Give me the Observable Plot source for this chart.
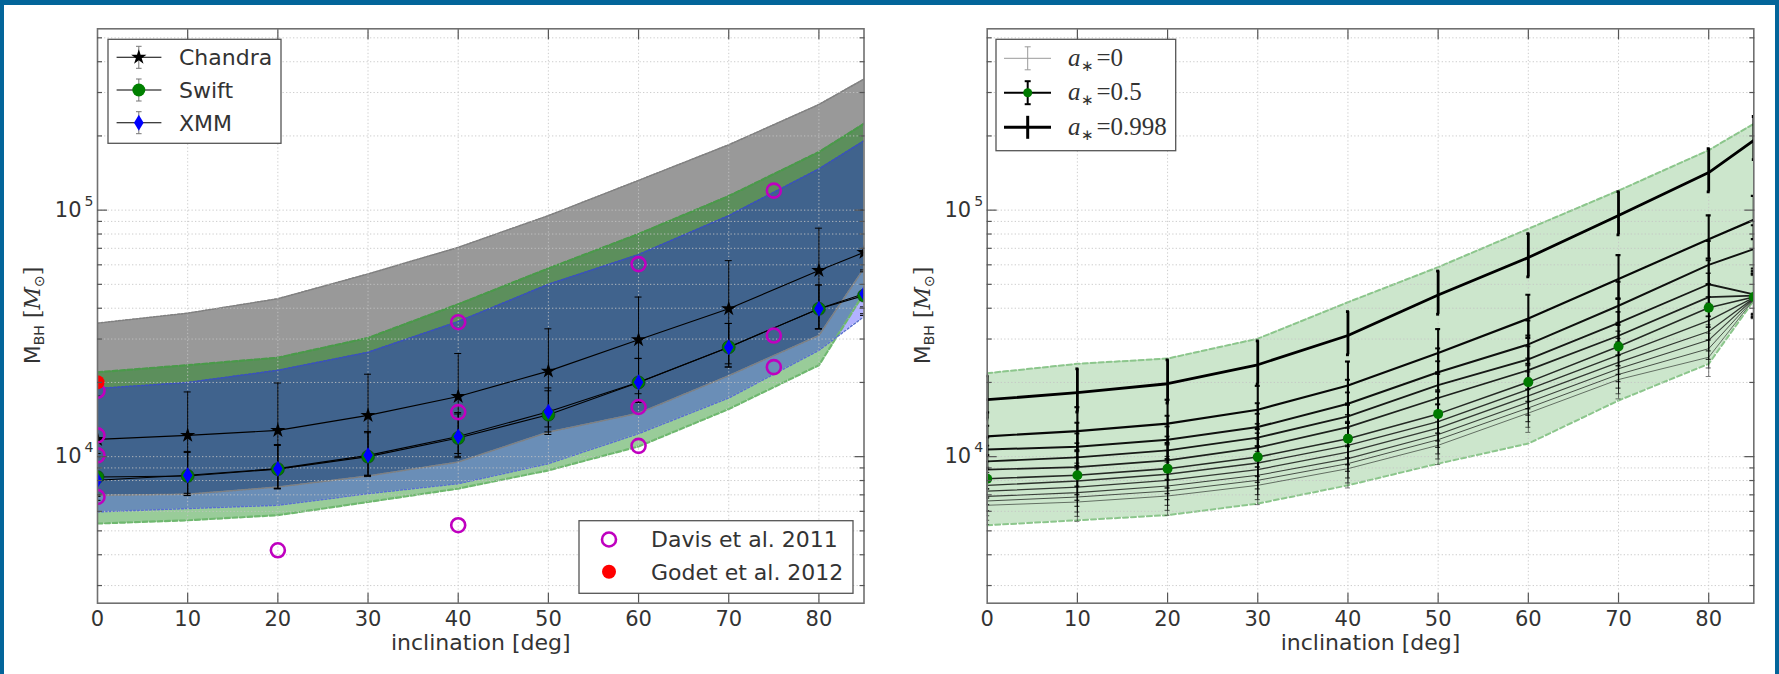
<!DOCTYPE html>
<html><head><meta charset="utf-8">
<script src="https://cdn.jsdelivr.net/npm/d3@7"></script>
<script src="https://cdn.jsdelivr.net/npm/@observablehq/plot@0.6"></script>
<style>
html,body{margin:0;padding:0;background:#fff;}
#page{position:relative;width:1779px;height:674px;overflow:hidden;background:#fff;}
.bd{position:absolute;background:#03659a;}
.panel{position:absolute;top:0;}
</style></head><body>
<div id="page">
<div id="p1" class="panel" style="left:0px"></div>
<div id="p2" class="panel" style="left:890px"></div>
<div class="bd" style="left:0;top:0;width:4px;height:674px"></div>
<div class="bd" style="left:0;top:0;width:1779px;height:5px"></div>
<div class="bd" style="left:1775px;top:0;width:4px;height:674px"></div>
</div>
<script>
// ---------------- data ----------------
const incl = [0, 10, 20, 30, 40, 50, 60, 70, 80, 85];
const xTicks = [0, 10, 20, 30, 40, 50, 60, 70, 80];
const yMajor = [1e4, 1e5];
const yMinor = [3000, 4000, 5000, 6000, 7000, 8000, 9000, 20000, 30000, 40000, 50000, 60000, 70000, 80000, 90000, 200000, 300000, 400000, 500000];
const yTickBase = ["10", "10"];
const yTickExp = ["4", "5"];
const xLabel = "inclination [deg]";

// left panel: observatories
const chandra      = [11750, 12200, 12780, 14700, 17540, 22230, 29800, 39800, 56900, 67400];
const chandraErrLo = [7000, 7100, 7450, 8400, 10300, 13200, 18000, 23800, 33000, 40500];
const chandraErrHi = [17600, 18300, 19900, 21600, 26200, 33000, 44400, 62400, 84500, 100000];
const swift        = [8270, 8350, 8900, 10000, 11900, 14800, 20000, 27800, 39800, 45000];
const swiftErrLo   = [6900, 6950, 7400, 8300, 9900, 12300, 16600, 23100, 33000, 37400];
const swiftErrHi   = [10300, 10400, 11100, 12500, 14900, 18500, 25000, 34700, 49700, 56200];
const xmm          = [8020, 8400, 8940, 10120, 12080, 15200, 20050, 27800, 39800, 45800];
const xmmErrLo     = [6650, 6970, 7420, 8400, 10030, 12600, 16640, 23100, 33000, 38000];
const xmmErrHi     = [10000, 10500, 11200, 12650, 15100, 19000, 25060, 34700, 49700, 57200];

const chandraBandTop = [34800, 38200, 43700, 55100, 70600, 95000, 132000, 184000, 268000, 340000];
const chandraBandBot = [6970, 7040, 7530, 8350, 9510, 12580, 15000, 21300, 31000, 58000];
const swiftBandTop   = [22000, 23500, 25200, 30300, 41500, 58000, 80000, 114000, 172000, 224000];
const swiftBandBot   = [5355, 5520, 5790, 6550, 7420, 8800, 11000, 15600, 23500, 46000];
const xmmBandTop     = [18900, 20000, 22400, 26500, 35300, 50000, 66000, 95000, 147000, 191000];
const xmmBandBot     = [5970, 6160, 6350, 7080, 7770, 9370, 12400, 17300, 27000, 37000];

const davisIncl = [0, 0, 0, 0, 20, 40, 40, 40, 60, 60, 60, 75, 75, 75];
const davisMass = [18500, 12200, 10120, 6860, 4170, 5270, 15160, 35100, 60400, 15900, 11060, 120000, 31000, 23070];
const godetIncl = [0];
const godetMass = [20050];

const legend1Labels = ["Chandra", "Swift", "XMM"];
const legend2Labels = ["Davis et al. 2011", "Godet et al. 2012"];

// right panel: spin curves
const spins = [0, 0.1, 0.2, 0.3, 0.4, 0.5, 0.6, 0.7, 0.8, 0.9, 0.998];
const spinMass = [
  [6350, 6546, 6925, 7650, 8940, 11120, 15020, 20550, 25310, 43400],
  [6610, 6858, 7254, 8016, 9370, 11720, 15760, 21550, 27420, 43600],
  [6900, 7146, 7601, 8400, 9815, 12290, 16610, 22710, 29710, 43800],
  [7240, 7530, 8016, 8860, 10440, 13060, 17640, 24130, 32190, 44000],
  [7650, 7965, 8480, 9420, 11110, 13875, 18740, 25830, 35600, 44200],
  [8140, 8400, 8940, 9963, 11830, 14910, 20060, 27980, 40160, 44400],
  [8860, 9075, 9660, 10875, 13180, 17290, 22430, 30920, 44370, 45000],
  [9570, 9935, 10605, 11940, 14570, 19500, 24810, 34870, 50050, 45500],
  [10680, 10980, 11720, 13180, 16400, 21990, 28540, 40950, 59950, 69500],
  [12090, 12700, 13610, 15500, 19450, 26340, 36310, 52530, 76230, 91340],
  [17020, 18170, 19760, 23590, 31010, 45290, 64200, 95080, 142000, 191800]
];
const spinErrDownFactor = 0.835;
const spinErrUpFactor = 1.25;
const rightBandTop = [21800, 23800, 25000, 30100, 42300, 58700, 84000, 120000, 175000, 224000];
const rightBandBot = [5270, 5520, 5790, 6450, 7650, 9370, 11300, 16900, 23800, 43000];
const spinLegendValues = ["0", "0.5", "0.998"];

// ---------------- layout ----------------
const H = 674, MT = 28.3, MB = 674 - 602.7;
const yDomain = [2544, 544000];
const TXT = "#333";

const thinDiamond = { draw(ctx, size) { const r = Math.sqrt(size / Math.PI), w = r * 0.6;
  ctx.moveTo(0, -r); ctx.lineTo(w, 0); ctx.lineTo(0, r); ctx.lineTo(-w, 0); ctx.closePath(); } };

function gridMarks() {
  return [
    Plot.gridX(xTicks.slice(1), {stroke: "#c4c4c4", strokeOpacity: 0.85, strokeDasharray: "1.3,2.2", strokeWidth: 1}),
    Plot.gridY(yMajor.concat(yMinor), {stroke: "#c4c4c4", strokeOpacity: 0.85, strokeDasharray: "1.3,2.2", strokeWidth: 1})
  ];
}
function axisMarks() {
  const tk = {fill: "none", stroke: "#555", strokeWidth: 1.2};
  return [
    Plot.frame({stroke: "#707070", strokeWidth: 1.6}),
    Plot.axisY(yMajor, {anchor: "left", tickSize: 10, dx: 10, ...tk}),
    Plot.axisY(yMinor, {anchor: "left", tickSize: 5, dx: 5, ...tk}),
    Plot.axisY(yMajor, {anchor: "right", tickSize: 10, dx: -10, ...tk}),
    Plot.axisY(yMinor, {anchor: "right", tickSize: 5, dx: -5, ...tk}),
    Plot.axisX(xTicks.slice(1), {anchor: "bottom", tickSize: 10, dy: -10, ...tk}),
    Plot.axisX(xTicks.slice(1), {anchor: "top", tickSize: 10, dy: 10, ...tk}),
    Plot.axisX(xTicks, {anchor: "bottom", tickSize: 0, tickPadding: 8, fontSize: 21, fill: TXT, label: null}),
    Plot.text(yMajor, {frameAnchor: "left", y: d => d, text: (d, i) => yTickBase[i], textAnchor: "end", dx: -16, fontSize: 21, fill: TXT}),
    Plot.text(yMajor, {frameAnchor: "left", y: d => d, text: (d, i) => yTickExp[i], textAnchor: "end", dx: -4, dy: -9, fontSize: 14, fill: TXT}),
    Plot.text([xLabel], {frameAnchor: "bottom", text: d => d, dy: 47, fontSize: 22, fill: TXT})
  ];
}
function errMarks(rows, cap, opts) {
  return [
    Plot.ruleX(rows, {x: "x", y1: "lo", y2: "hi", clip: true, ...opts}),
    Plot.ruleY(rows, {y: "lo", x1: d => d.x - cap, x2: d => d.x + cap, clip: true, ...opts}),
    Plot.ruleY(rows, {y: "hi", x1: d => d.x - cap, x2: d => d.x + cap, clip: true, ...opts})
  ];
}
function yLabel(svg) {
  const t = d3.select(svg).append("text").attr("transform", "translate(40,315.5) rotate(-90)")
    .attr("text-anchor", "middle").attr("fill", TXT).attr("font-size", 22).attr("font-family", "DejaVu Sans, sans-serif");
  t.append("tspan").text("M");
  t.append("tspan").attr("font-size", 14).attr("dy", 4).text("BH");
  t.append("tspan").attr("dy", -4).attr("font-family", "DejaVu Serif, serif").text(" [");
  t.append("tspan").attr("font-family", "DejaVu Serif, serif").attr("font-style", "italic").text("M");
  t.append("tspan").attr("font-size", 14).attr("dy", 4).text("⊙");
  t.append("tspan").attr("dy", -4).attr("font-family", "DejaVu Serif, serif").text("]");
}
const style = {fontFamily: "'DejaVu Sans', sans-serif", fontSize: "21px", color: TXT, background: "transparent", overflow: "visible"};

// ---------------- left panel ----------------
(function () {
  const W = 900, ML = 97, MR = 900 - 863.5;
  const pxPerDeg = (W - ML - MR) / 85, cap = 3.5 / pxPerDeg;
  const rows = (v, lo, hi) => incl.map((x, i) => ({x, v: v[i], lo: lo[i], hi: hi[i]}));
  const ch = rows(chandra, chandraErrLo, chandraErrHi);
  const sw = rows(swift, swiftErrLo, swiftErrHi);
  const xm = rows(xmm, xmmErrLo, xmmErrHi);
  const band = (t, b) => incl.map((x, i) => ({x, t: t[i], b: b[i]}));
  const bc = band(chandraBandTop, chandraBandBot), bs = band(swiftBandTop, swiftBandBot), bx = band(xmmBandTop, xmmBandBot);
  const davis = davisIncl.map((x, i) => ({x, v: davisMass[i]}));
  const godet = godetIncl.map((x, i) => ({x, v: godetMass[i]}));
  const edge = (data, key, stroke, dash, w) => Plot.line(data, {x: "x", y: key, stroke, strokeDasharray: dash, strokeWidth: w, clip: true});
  const svg = Plot.plot({
    width: W, height: H, marginLeft: ML, marginRight: MR, marginTop: MT, marginBottom: MB,
    x: {domain: [0, 85], label: null}, y: {type: "log", domain: yDomain, label: null}, style,
    marks: [
      Plot.areaY(bc, {x: "x", y1: "b", y2: "t", fill: "#000", fillOpacity: 0.4, clip: true}),
      Plot.areaY(bs, {x: "x", y1: "b", y2: "t", fill: "#008000", fillOpacity: 0.4, clip: true}),
      Plot.areaY(bx, {x: "x", y1: "b", y2: "t", fill: "#0000ff", fillOpacity: 0.3, clip: true}),
      edge(bc, "t", "#808080", "2,1.5", 1.5), edge(bc, "b", "#808080", "2,1.5", 1.5),
      edge(bs, "t", "#4a9a4a", "5,2.5", 2.2), edge(bs, "b", "#6fb86f", "5,2.5", 2.2),
      edge(bx, "t", "#3a50c0", "2,2", 1.5), edge(bx, "b", "#5a70d0", "2,2", 1.5),
      ...gridMarks(),
      ...errMarks(ch, cap, {stroke: "#000", strokeWidth: 1}),
      ...errMarks(sw, cap, {stroke: "#000", strokeWidth: 1}),
      ...errMarks(xm, cap, {stroke: "#000", strokeWidth: 1}),
      Plot.line(ch, {x: "x", y: "v", stroke: "#000", strokeWidth: 1.1, clip: true}),
      Plot.line(sw, {x: "x", y: "v", stroke: "#000", strokeWidth: 1.1, clip: true}),
      Plot.line(xm, {x: "x", y: "v", stroke: "#000", strokeWidth: 1.1, clip: true}),
      Plot.dot(ch, {x: "x", y: "v", symbol: "star", r: 4.8, fill: "#000", stroke: "none", clip: true}),
      Plot.dot(sw, {x: "x", y: "v", symbol: "circle", r: 6.5, fill: "#008000", stroke: "#0b3b0b", strokeWidth: 0.6, clip: true}),
      Plot.dot(xm, {x: "x", y: "v", symbol: thinDiamond, r: 8, fill: "#0000ff", stroke: "none", clip: true}),
      Plot.dot(davis, {x: "x", y: "v", r: 7, fill: "none", stroke: "#bf00bf", strokeWidth: 2.6, clip: true}),
      Plot.dot(godet, {x: "x", y: "v", r: 7, fill: "#ff0000", stroke: "none", clip: true}),
      ...axisMarks()
    ]
  });
  yLabel(svg);
  const s = d3.select(svg);
  // legend 1
  const g1 = s.append("g").attr("text-anchor", "start");
  g1.append("rect").attr("x", 108).attr("y", 39.3).attr("width", 173).attr("height", 104)
    .attr("fill", "#fff").attr("stroke", "#555").attr("stroke-width", 1.3);
  const ly = [57.3, 90, 122.7];
  const syms = [
    {type: d3.symbolStar, size: 72, fill: "#000"},
    {type: d3.symbolCircle, size: Math.PI * 6.5 * 6.5, fill: "#008000"},
    {type: thinDiamond, size: Math.PI * 64, fill: "#0000ff"}
  ];
  ly.forEach((y, i) => {
    g1.append("line").attr("x1", 116.6).attr("x2", 161.4).attr("y1", y).attr("y2", y).attr("stroke", "#000").attr("stroke-width", 1.1);
    g1.append("line").attr("x1", 138.8).attr("x2", 138.8).attr("y1", y - 11).attr("y2", y + 11).attr("stroke", "#777").attr("stroke-width", 1);
    [y - 11, y + 11].forEach(yy => g1.append("line").attr("x1", 136).attr("x2", 141.6).attr("y1", yy).attr("y2", yy).attr("stroke", "#777").attr("stroke-width", 1));
    g1.append("path").attr("d", d3.symbol(syms[i].type, syms[i].size)()).attr("transform", `translate(138.8,${y})`).attr("fill", syms[i].fill);
    g1.append("text").attr("x", 179).attr("y", y).attr("dy", "0.36em").attr("font-size", 22).attr("fill", TXT)
      .attr("text-anchor", "start").attr("font-family", "DejaVu Sans, sans-serif").text(legend1Labels[i]);
  });
  // legend 2
  const g2 = s.append("g").attr("text-anchor", "start");
  g2.append("rect").attr("x", 579).attr("y", 520.7).attr("width", 274).attr("height", 72.6)
    .attr("fill", "#fff").attr("stroke", "#555").attr("stroke-width", 1.3);
  g2.append("circle").attr("cx", 609).attr("cy", 539.5).attr("r", 7).attr("fill", "none").attr("stroke", "#bf00bf").attr("stroke-width", 2.6);
  g2.append("circle").attr("cx", 609).attr("cy", 571.7).attr("r", 7).attr("fill", "#ff0000");
  [539.5, 571.7].forEach((y, i) => g2.append("text").attr("x", 651).attr("y", y).attr("dy", "0.36em").attr("font-size", 22)
    .attr("text-anchor", "start").attr("fill", TXT).attr("font-family", "DejaVu Sans, sans-serif").text(legend2Labels[i]));
  document.getElementById("p1").appendChild(svg);
})();

// ---------------- right panel ----------------
(function () {
  const W = 889, ML = 96.7, MR = 889 - (1753.3 - 890);
  const pxPerDeg = (W - ML - MR) / 85;
  const band = incl.map((x, i) => ({x, t: rightBandTop[i], b: rightBandBot[i]}));
  const curveMarks = [];
  const errs = [];
  spins.forEach((s, k) => {
    const rows = incl.map((x, i) => ({x, v: spinMass[k][i], lo: spinMass[k][i] * spinErrDownFactor, hi: spinMass[k][i] * spinErrUpFactor}));
    const sw = s > 0.99 ? 2.8 : 0.8 + 1.5 * s;
    const op = 0.65 + 0.35 * s;
    const cap = (s > 0.99 ? 1.5 : 2.5) / pxPerDeg;
    errs.push(...errMarks(rows, cap, {stroke: "#000", strokeWidth: sw, strokeOpacity: op}));
    curveMarks.push(Plot.line(rows, {x: "x", y: "v", stroke: "#000", strokeWidth: sw, strokeOpacity: op, clip: true}));
  });
  const mid = incl.map((x, i) => ({x, v: spinMass[spins.indexOf(0.5)][i]}));
  const svg = Plot.plot({
    width: W, height: H, marginLeft: ML, marginRight: MR, marginTop: MT, marginBottom: MB,
    x: {domain: [0, 85], label: null}, y: {type: "log", domain: yDomain, label: null}, style,
    marks: [
      Plot.areaY(band, {x: "x", y1: "b", y2: "t", fill: "#008000", fillOpacity: 0.2, clip: true}),
      Plot.line(band, {x: "x", y: "t", stroke: "#8cc68c", strokeWidth: 2, strokeDasharray: "5,3", clip: true}),
      Plot.line(band, {x: "x", y: "b", stroke: "#8cc68c", strokeWidth: 2, strokeDasharray: "5,3", clip: true}),
      ...gridMarks(),
      ...errs,
      ...curveMarks,
      Plot.dot(mid, {x: "x", y: "v", r: 5, fill: "#007a00", stroke: "none", clip: true}),
      ...axisMarks()
    ]
  });
  yLabel(svg);
  const s = d3.select(svg);
  const g = s.append("g").attr("text-anchor", "start");
  g.append("rect").attr("x", 106).attr("y", 39.3).attr("width", 179.7).attr("height", 111.4)
    .attr("fill", "#fff").attr("stroke", "#555").attr("stroke-width", 1.3);
  const ly = [58.3, 92.7, 127.3];
  const st = [{c: "#9a9a9a", w: 1, cap: true}, {c: "#000", w: 2, cap: true}, {c: "#000", w: 3, cap: false}];
  ly.forEach((y, i) => {
    g.append("line").attr("x1", 114).attr("x2", 161).attr("y1", y).attr("y2", y).attr("stroke", st[i].c).attr("stroke-width", st[i].w);
    g.append("line").attr("x1", 137.7).attr("x2", 137.7).attr("y1", y - 11.5).attr("y2", y + 11.5).attr("stroke", st[i].c).attr("stroke-width", st[i].w);
    if (st[i].cap) [y - 11.5, y + 11.5].forEach(yy => g.append("line").attr("x1", 134.7).attr("x2", 140.7).attr("y1", yy).attr("y2", yy).attr("stroke", st[i].c).attr("stroke-width", st[i].w));
    if (i === 1) g.append("circle").attr("cx", 137.7).attr("cy", y).attr("r", 4.5).attr("fill", "#007a00");
    const t = g.append("text").attr("x", 178).attr("y", y).attr("dy", "0.3em").attr("font-size", 25).attr("fill", TXT)
      .attr("text-anchor", "start").attr("font-family", "Liberation Serif, serif");
    t.append("tspan").attr("font-style", "italic").text("a");
    t.append("tspan").attr("font-size", 15).attr("dy", 5).text("∗");
    t.append("tspan").attr("dy", -5).attr("dx", 3).text("=" + spinLegendValues[i]);
  });
  document.getElementById("p2").appendChild(svg);
})();
</script>
</body></html>
